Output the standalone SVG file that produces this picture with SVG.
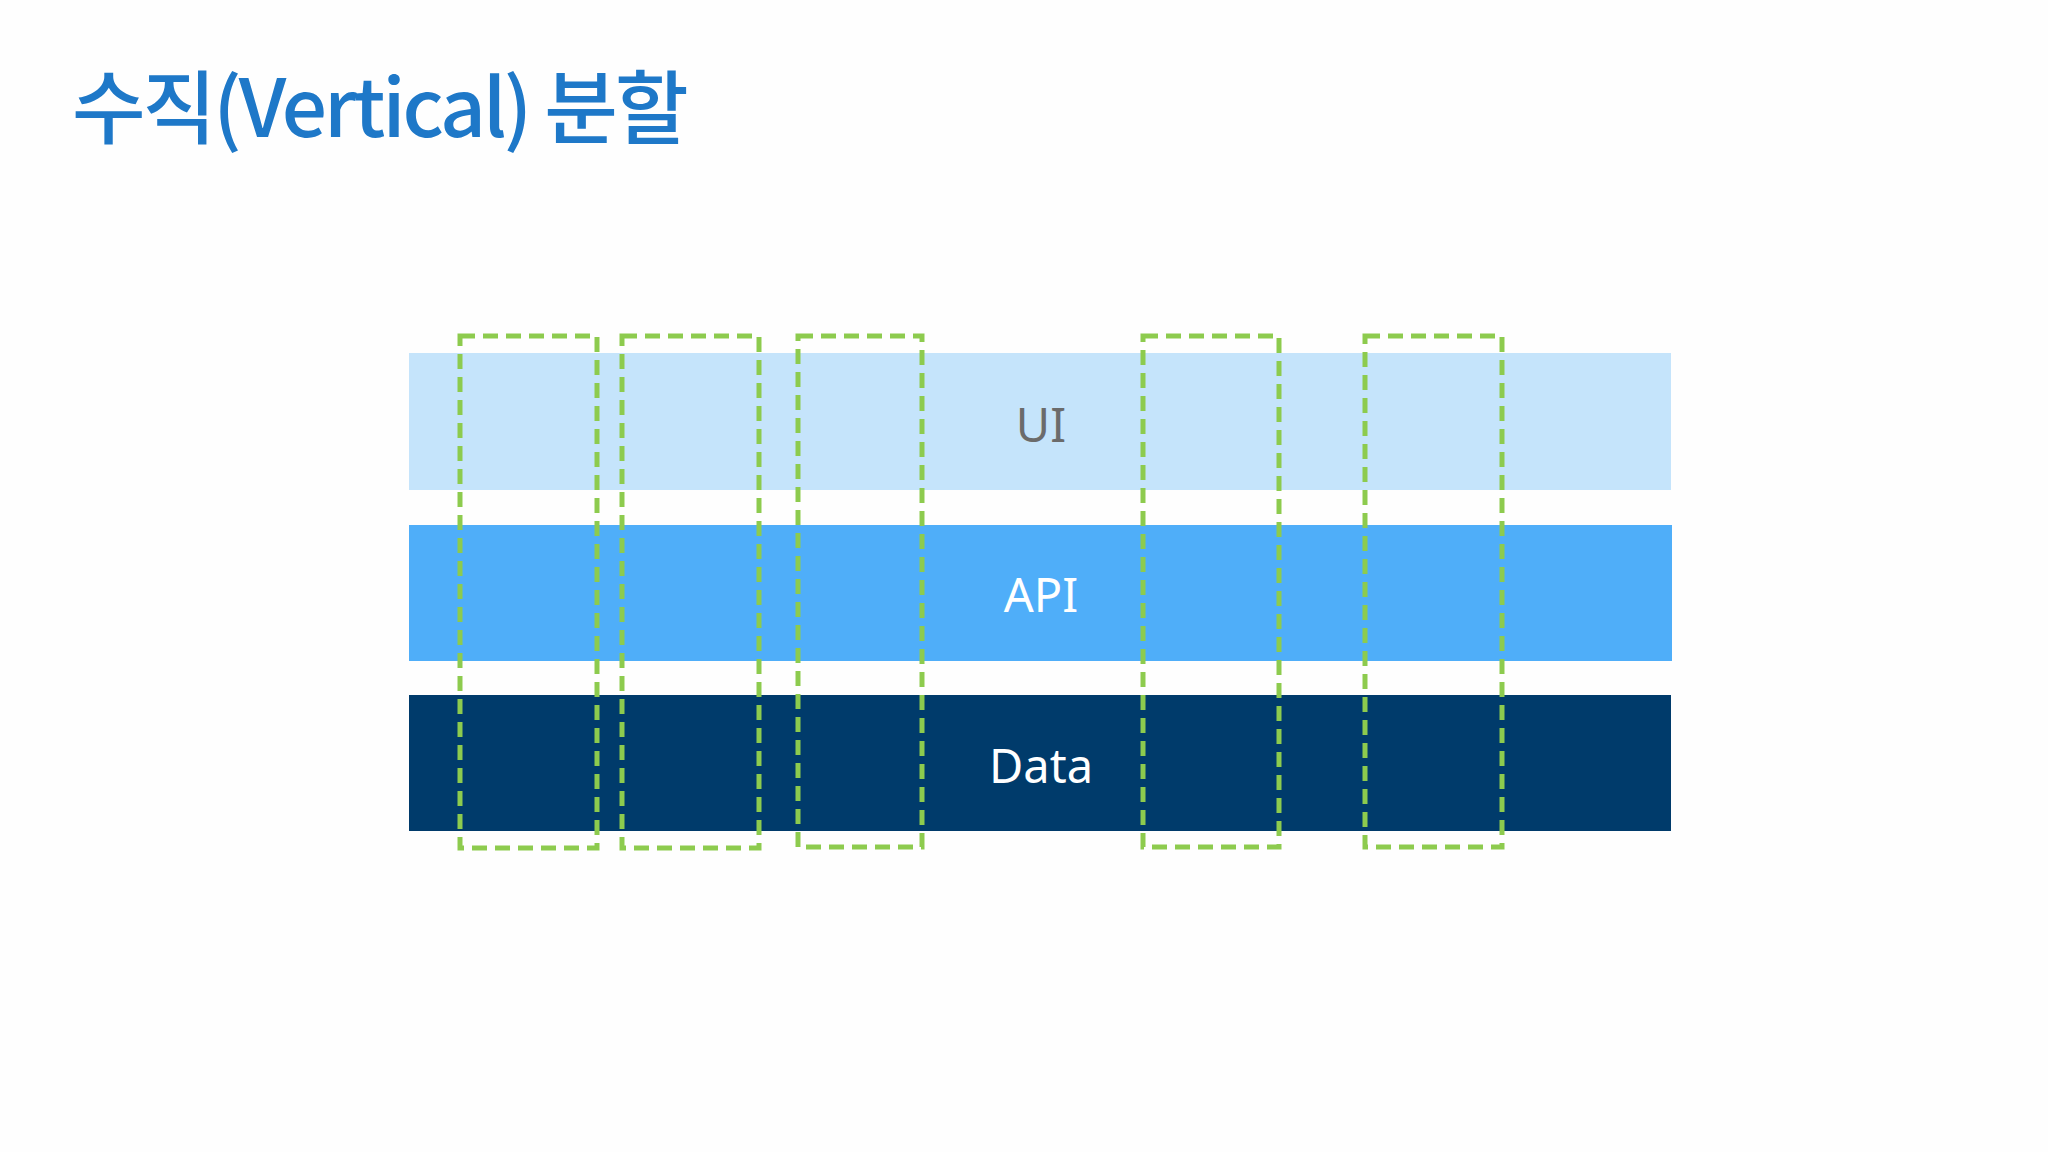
<svg xmlns="http://www.w3.org/2000/svg" width="2048" height="1152" viewBox="0 0 2048 1152">
<style>
.lbl{font-family:"Segoe UI","Noto Sans","Open Sans",sans-serif;font-size:47px;text-anchor:middle;dominant-baseline:central}
.box{fill:none;stroke:#8DCB4E;stroke-width:5;stroke-dasharray:15 8}
</style>
<rect width="2048" height="1152" fill="#FEFEFE"/>
<text x="72" y="137" font-family="'Noto Sans CJK KR','Noto Sans',sans-serif" font-size="80" font-weight="500" fill="#1E78C8" letter-spacing="-3">수직(Vertical) 분할</text>
<g id="ui"><rect x="409" y="353" width="1262" height="137" fill="#C5E4FB"/><text class="lbl" x="1041" y="424" fill="#6B6B6B">UI</text></g>
<g id="api"><rect x="409" y="525" width="1263" height="136" fill="#4FAEF9"/><text class="lbl" x="1041" y="594" fill="#FFFFFF">API</text></g>
<g id="data"><rect x="409" y="695" width="1262" height="136" fill="#003B6B"/><text class="lbl" x="1041" y="765" fill="#FFFFFF">Data</text></g>
<g id="slices">
<rect class="box" x="460" y="336" width="137" height="512"/>
<rect class="box" x="622" y="336" width="137" height="512"/>
<rect class="box" x="798" y="336" width="124" height="511"/>
<rect class="box" x="1143" y="336" width="136" height="511"/>
<rect class="box" x="1365" y="336" width="137" height="511"/>
</g>
<g id="connectors"/>
</svg>
